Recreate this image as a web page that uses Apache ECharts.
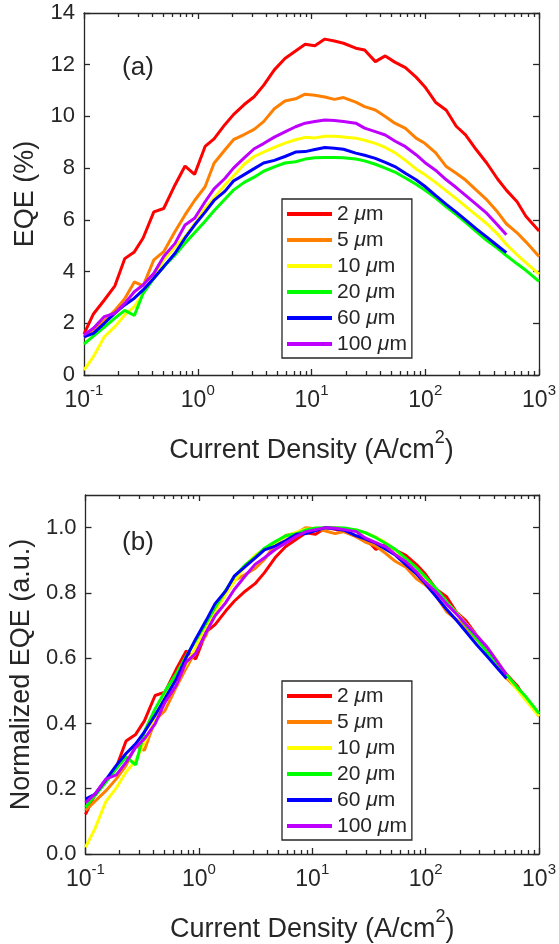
<!DOCTYPE html>
<html><head><meta charset="utf-8">
<script src="https://cdn.jsdelivr.net/npm/echarts@6/dist/echarts.min.js"></script>
<style>html,body{margin:0;padding:0;background:#fff}#c{width:559px;height:944px}</style>
</head><body><div id="c"></div>
<script>
// Current density (A/cm^2), shared by all devices
const currentDensity = [0.1, 0.121, 0.151, 0.187, 0.228, 0.277, 0.331, 0.411, 0.502, 0.631, 0.773, 0.938,
  1.16, 1.39, 1.73, 2.06, 2.56, 3.13, 3.79, 4.71, 5.84, 7.24, 8.79, 10.7, 13.1, 15.9, 19.1, 24.5, 29.3,
  36.4, 44.5, 54, 66.9, 83, 99, 123, 153, 187, 226, 281, 348, 432, 516, 641, 766, 1000];

// EQE (%) per device size
const eqe2um = [1.58, 2.36, 2.9, 3.45, 4.5, 4.76, 5.3, 6.31, 6.44, 7.35, 8.08, 7.76, 8.84, 9.13, 9.68, 10.07,
  10.46, 10.76, 11.2, 11.8, 12.24, 12.53, 12.79, 12.73, 12.99, 12.92, 12.83, 12.64, 12.57, 12.12, 12.34, 12.1,
  11.89, 11.52, 11.15, 10.55, 10.24, 9.62, 9.29, 8.71, 8.19, 7.58, 7.15, 6.7, 6.14, 5.57];
const eqe5um = [1.45, 1.75, 2.1, 2.5, 2.95, 3.6, 3.45, 4.45, 4.77, 5.55, 6.19, 6.75, 7.28, 8.19, 8.7, 9.1,
  9.3, 9.5, 9.8, 10.3, 10.6, 10.68, 10.86, 10.82, 10.75, 10.66, 10.73, 10.55, 10.38, 10.25, 10.0, 9.74,
  9.54, 9.16, 8.96, 8.6, 8.06, 7.8, 7.54, 7.15, 6.77, 6.3, 5.85, 5.5, 5.15, 4.58];
const eqe10um = [0.19, 0.71, 1.48, 1.87, 2.32, 2.64, 3.16, 3.8, 4.45, 4.96, 5.35, 5.85, 6.45, 6.85, 7.35, 7.7,
  8.15, 8.45, 8.62, 8.8, 8.97, 9.1, 9.19, 9.17, 9.23, 9.23, 9.2, 9.16, 9.08, 8.96, 8.8, 8.6,
  8.3, 7.97, 7.75, 7.45, 7.12, 6.82, 6.52, 6.18, 5.85, 5.45, 5.05, 4.65, 4.35, 3.9];
const eqe20um = [1.2, 1.5, 1.85, 2.2, 2.5, 2.3, 3.16, 3.74, 4.19, 4.64, 5.1, 5.5, 5.95, 6.35, 6.8, 7.15,
  7.45, 7.65, 7.88, 8.05, 8.2, 8.25, 8.35, 8.4, 8.41, 8.41, 8.4, 8.35, 8.28, 8.15, 8.0, 7.85,
  7.62, 7.38, 7.15, 6.85, 6.5, 6.2, 5.9, 5.55, 5.2, 4.9, 4.62, 4.3, 4.05, 3.62];
const eqe60um = [1.48, 1.61, 2.0, 2.39, 2.71, 2.97, 3.29, 3.74, 4.19, 4.71, 5.3, 5.8, 6.3, 6.75, 7.1, 7.5,
  7.75, 7.98, 8.2, 8.3, 8.45, 8.62, 8.64, 8.72, 8.8, 8.77, 8.73, 8.58, 8.5, 8.38, 8.22, 8.06,
  7.8, 7.55, 7.3, 6.95, 6.6, 6.3, 6.0, 5.65, 5.33, 5.0, 4.73, null, null, null];
const eqe100um = [1.55, 1.81, 2.26, 2.39, 2.77, 3.22, 3.48, 3.93, 4.58, 5.09, 5.8, 6.06, 6.7, 7.2, 7.6, 8.0,
  8.4, 8.75, 8.95, 9.2, 9.4, 9.6, 9.74, 9.8, 9.86, 9.84, 9.8, 9.74, 9.55, 9.41, 9.28, 9.05,
  8.83, 8.52, 8.22, 7.92, 7.55, 7.25, 6.95, 6.6, 6.25, 5.8, 5.42, null, null, null];

const seriesNames = ['2 μm', '5 μm', '10 μm', '20 μm', '60 μm', '100 μm'];
const seriesValues = [eqe2um, eqe5um, eqe10um, eqe20um, eqe60um, eqe100um];
const seriesColors = ['#ff0000', '#ff8000', '#ffff00', '#00ff00', '#0000ff', '#bf00ff'];

const FONT = '"Liberation Sans", Arial, Helvetica, sans-serif';
const AX = '#262626';
const grids = [
  { left: 84, top: 13, width: 456, height: 362 },
  { left: 84, top: 495, width: 456, height: 362 }
];

function xAxesFor(g) {
  const line = { lineStyle: { color: AX, width: 1.3 } };
  const base = {
    gridIndex: g, type: 'log', logBase: 10, min: 0.1, max: 1000, splitLine: { show: false },
    axisLine: Object.assign({ show: true, onZero: false }, line),
    axisTick: Object.assign({ show: true, inside: true, length: 6 }, line),
    minorTick: Object.assign({ show: true, splitNumber: 9, length: 4 }, line),
    minorSplitLine: { show: false }
  };
  return [
    Object.assign({}, base, {
      position: 'bottom',
      axisLabel: {
        show: true, margin: 8, color: AX, fontFamily: FONT,
        formatter: v => '{b|10}{s|' + Math.round(Math.log10(v)) + '}',
        rich: {
          b: { fontSize: 23, fontFamily: FONT, color: AX, padding: [6, 0, 0, 0], verticalAlign: 'bottom' },
          s: { fontSize: 15, fontFamily: FONT, color: AX, verticalAlign: 'top' }
        }
      },
      name: '{t|Current Density (A/cm}{s|2}{t|)}',
      nameLocation: 'middle', nameGap: 54,
      nameTextStyle: {
        color: AX, fontFamily: FONT, fontSize: 27,
        rich: {
          t: { fontSize: 27, fontFamily: FONT, color: AX, padding: [8, 0, 0, 0], verticalAlign: 'bottom' },
          s: { fontSize: 18, fontFamily: FONT, color: AX, verticalAlign: 'top' }
        }
      }
    }),
    Object.assign({}, base, { position: 'top', axisLabel: { show: false } })
  ];
}

function yAxesFor(g, min, max, interval, name, fmt) {
  const line = { lineStyle: { color: AX, width: 1.3 } };
  const base = {
    gridIndex: g, type: 'value', min: min, max: max, interval: interval, splitLine: { show: false },
    axisLine: Object.assign({ show: true, onZero: false }, line),
    axisTick: Object.assign({ show: true, inside: true, length: 6 }, line)
  };
  return [
    Object.assign({}, base, {
      position: 'left',
      axisLabel: { show: true, margin: 9, color: AX, fontFamily: FONT, fontSize: 22, formatter: fmt, showMaxLabel: g === 0 },
      name: name, nameLocation: 'middle', nameGap: 45,
      nameTextStyle: { color: AX, fontFamily: FONT, fontSize: 27 }
    }),
    Object.assign({}, base, { position: 'right', axisLabel: { show: false } })
  ];
}

const xAxis = xAxesFor(0).concat(xAxesFor(1));
const yAxis = yAxesFor(0, 0, 14, 2, 'EQE (%)', v => String(v))
  .concat(yAxesFor(1, 0, 1.1, 0.2, 'Normalized EQE (a.u.)', v => v.toFixed(1)));

const series = [];
[0, 1].forEach(g => {
  seriesValues.forEach((vals, i) => {
    // panel (b) shows each curve divided by its own maximum
    const peak = Math.max.apply(null, vals.filter(v => v !== null));
    const data = [];
    currentDensity.forEach((j, k) => {
      if (vals[k] !== null) data.push([j, g === 0 ? vals[k] : vals[k] / peak]);
    });
    series.push({
      name: seriesNames[i], type: 'line', xAxisIndex: g * 2, yAxisIndex: g * 2,
      data: data, showSymbol: false, symbol: 'none',
      lineStyle: { color: seriesColors[i], width: 3 },
      itemStyle: { color: seriesColors[i] },
      emphasis: { disabled: true }
    });
  });
});

function legendAt(top) {
  return {
    orient: 'vertical', left: 282, top: top, selectedMode: false,
    data: seriesNames, icon: 'rect', itemWidth: 45, itemHeight: 4, itemGap: 4,
    backgroundColor: '#fff', borderColor: AX, borderWidth: 1.3, borderRadius: 0,
    padding: [4, 5, 3, 5],
    formatter: n => n.replace('μ', '{i|μ}'),
    textStyle: {
      color: AX, fontFamily: FONT, fontSize: 21, lineHeight: 22,
      rich: { i: { fontStyle: 'italic', fontFamily: FONT, fontSize: 21, color: AX, lineHeight: 22 } }
    }
  };
}

const chart = echarts.init(document.getElementById('c'), null, { renderer: 'canvas' });
chart.setOption({
  animation: false,
  backgroundColor: '#fff',
  grid: grids,
  xAxis: xAxis,
  yAxis: yAxis,
  legend: [legendAt(199), legendAt(681)],
  series: series,
  graphic: [
    { type: 'text', x: 138, y: 68, style: { text: '(a)', fontSize: 26, fontFamily: FONT, fill: AX, align: 'center', verticalAlign: 'middle' } },
    { type: 'text', x: 138, y: 543, style: { text: '(b)', fontSize: 26, fontFamily: FONT, fill: AX, align: 'center', verticalAlign: 'middle' } }
  ]
});
</script>
</body></html>
